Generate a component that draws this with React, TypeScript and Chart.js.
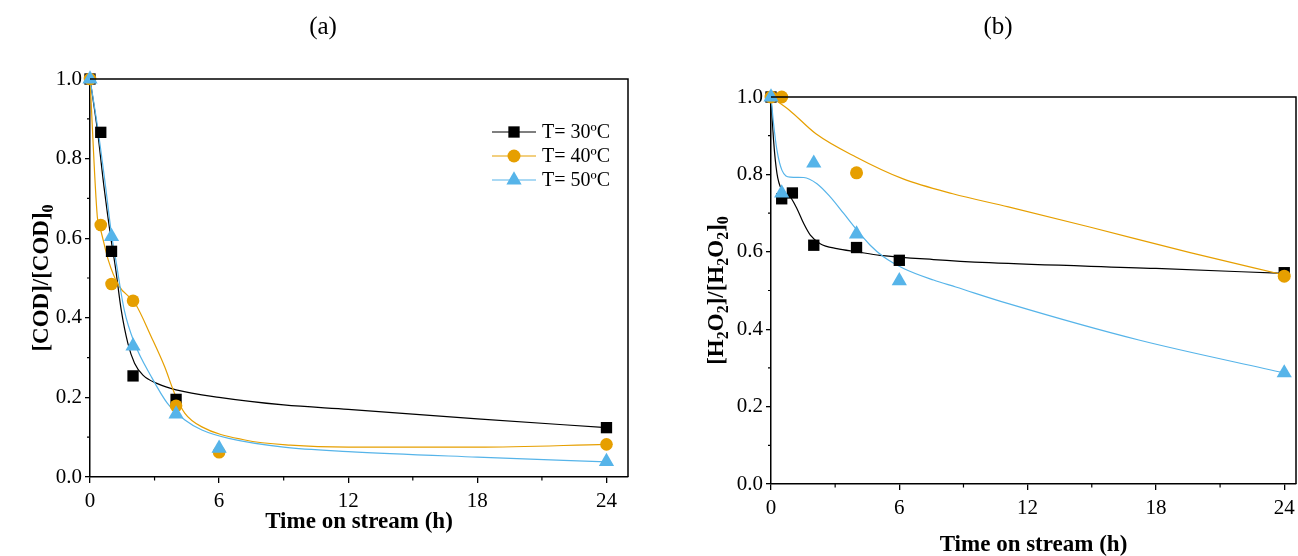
import React, { useEffect, useRef } from 'react';
import { Chart, registerables } from 'chart.js';

Chart.register(...registerables);

const FONT = "'Liberation Serif', 'Times New Roman', Times, serif";
const BLACK = '#000000';
const ORANGE = '#E69F00';
const BLUE = '#56B4E9';

const seriesLabels = ['T= 30ºC', 'T= 40ºC', 'T= 50ºC'];
const xMinorTicks = [3, 9, 15, 21];
const yMinorTicks = [0.1, 0.3, 0.5, 0.7, 0.9];

// ---------- Panel (a): [COD]/[COD]0 ----------
const codT30 = [0, 0.5, 1, 2, 4, 24];
const cod30 = [1.0, 0.866, 0.567, 0.254, 0.195, 0.124];
const codT40 = [0, 0.5, 1, 2, 4, 6, 24];
const cod40 = [1.0, 0.633, 0.485, 0.443, 0.179, 0.062, 0.082];
const codT50 = [0, 1, 2, 4, 6, 24];
const cod50 = [1.0, 0.604, 0.329, 0.158, 0.072, 0.039];

// fitted curves
const codFitT30 = [0, 0.34, 0.65, 0.96, 1.2, 1.45, 1.76, 2.07, 2.46, 3.16, 4, 6, 9, 12, 18, 24];
const codFit30 = [1.0, 0.873, 0.729, 0.604, 0.52, 0.42, 0.336, 0.286, 0.256, 0.234, 0.219, 0.2, 0.181, 0.17, 0.146, 0.124];
const codFitT40 = [0, 0.34, 0.5, 0.85, 1.32, 2.1, 2.85, 3.47, 3.93, 4.41, 5.2, 7.2, 9.3, 12, 18, 24];
const codFit40 = [1.0, 0.654, 0.62, 0.545, 0.482, 0.436, 0.352, 0.277, 0.21, 0.16, 0.126, 0.093, 0.08, 0.075, 0.075, 0.082];
const codFitT50 = [0, 0.35, 0.7, 1.0, 1.2, 1.59, 2.07, 2.85, 3.6, 4.41, 5.2, 6.45, 9, 12, 18, 24];
const codFit50 = [1.0, 0.88, 0.74, 0.61, 0.545, 0.42, 0.336, 0.252, 0.185, 0.143, 0.118, 0.097, 0.075, 0.064, 0.05, 0.038];

// ---------- Panel (b): [H2O2]/[H2O2]0 ----------
const h2o2T30 = [0, 0.5, 1, 2, 4, 6, 24];
const h2o230 = [1.0, 0.737, 0.752, 0.617, 0.611, 0.578, 0.546];
const h2o2T40 = [0, 0.5, 4, 24];
const h2o240 = [1.0, 1.0, 0.804, 0.537];
const h2o2T50 = [0, 0.5, 2, 4, 6, 24];
const h2o250 = [1.0, 0.752, 0.829, 0.646, 0.525, 0.287];

const h2o2FitT30 = [0, 0.12, 0.28, 0.51, 0.9, 1.21, 1.53, 1.84, 2.3, 3.08, 4.02, 5.1, 7.6, 10.2, 18, 24];
const h2o2Fit30 = [1.0, 0.888, 0.802, 0.759, 0.742, 0.712, 0.673, 0.643, 0.621, 0.608, 0.6, 0.591, 0.58, 0.572, 0.557, 0.544];
const h2o2FitT40 = [0, 0.86, 2.1, 3.97, 6.15, 8.5, 11.1, 14.9, 19.6, 24];
const h2o2Fit40 = [1.0, 0.966, 0.905, 0.845, 0.789, 0.75, 0.716, 0.664, 0.598, 0.54];
const h2o2FitT50 = [0, 0.12, 0.28, 0.51, 0.9, 1.53, 2.15, 2.77, 3.4, 4.02, 4.64, 5.26, 6.2, 7.6, 8.64, 11.1, 17.2, 24];
const h2o2Fit50 = [1.0, 0.931, 0.862, 0.811, 0.793, 0.792, 0.776, 0.742, 0.699, 0.656, 0.617, 0.587, 0.557, 0.527, 0.509, 0.466, 0.372, 0.287];

type RichPart = { t: string; sub?: boolean };

const yTitleA: RichPart[] = [{ t: '[COD]/[COD]' }, { t: '0', sub: true }];
const yTitleB: RichPart[] = [
  { t: '[H' }, { t: '2', sub: true }, { t: 'O' }, { t: '2', sub: true },
  { t: ']/[H' }, { t: '2', sub: true }, { t: 'O' }, { t: '2', sub: true },
  { t: ']' }, { t: '0', sub: true },
];

const pts = (xs: number[], ys: number[]) => xs.map((x, i) => ({ x, y: ys[i] }));

const markerDs = (label: string, xs: number[], ys: number[], color: string, style: string, radius: number, order: number) => ({
  type: 'scatter',
  label,
  data: pts(xs, ys),
  showLine: false,
  pointStyle: style,
  pointRadius: radius,
  pointHoverRadius: radius,
  pointBackgroundColor: color,
  pointBorderColor: color,
  pointBorderWidth: 0,
  order,
  clip: false,
});

const curveDs = (xs: number[], ys: number[], color: string, order: number) => ({
  type: 'line',
  label: '',
  data: pts(xs, ys),
  borderColor: color,
  borderWidth: 1.2,
  pointRadius: 0,
  pointHoverRadius: 0,
  cubicInterpolationMode: 'monotone',
  fill: false,
  order,
});

function drawRich(ctx: CanvasRenderingContext2D, parts: RichPart[], size: number) {
  const big = `bold ${size}px ${FONT}`;
  const small = `bold ${Math.round(size * 0.68)}px ${FONT}`;
  let total = 0;
  const widths = parts.map((p) => {
    ctx.font = p.sub ? small : big;
    const w = ctx.measureText(p.t).width;
    total += w;
    return w;
  });
  let x = -total / 2;
  parts.forEach((p, i) => {
    ctx.font = p.sub ? small : big;
    ctx.fillText(p.t, x, p.sub ? size * 0.22 : 0);
    x += widths[i];
  });
}

interface PanelCfg {
  title: string;
  titleX: number;
  titleY: number;
  yTitle: RichPart[];
  yTitleX: number;
  xTitleY: number;
  legend: boolean;
}

const legendItems = [
  { color: BLACK, style: 'rect', radius: 8 },
  { color: ORANGE, style: 'circle', radius: 6.5 },
  { color: BLUE, style: 'triangle', radius: 8.8 },
];

function drawMarker(ctx: CanvasRenderingContext2D, style: string, x: number, y: number, r: number) {
  ctx.beginPath();
  if (style === 'rect') {
    const s = Math.SQRT1_2 * r;
    ctx.rect(x - s, y - s, 2 * s, 2 * s);
  } else if (style === 'circle') {
    ctx.arc(x, y, r, 0, Math.PI * 2);
  } else {
    const w = (r * Math.sqrt(3)) / 2;
    ctx.moveTo(x, y - r);
    ctx.lineTo(x + w, y + r / 2);
    ctx.lineTo(x - w, y + r / 2);
    ctx.closePath();
  }
  ctx.fill();
}

const makePlugin = (cfg: PanelCfg) => ({
  id: 'panelDecor',
  afterDraw(chart: any) {
    const ctx: CanvasRenderingContext2D = chart.ctx;
    const a = chart.chartArea;
    const xs = chart.scales.x;
    const ys = chart.scales.y;
    ctx.save();
    ctx.strokeStyle = BLACK;
    ctx.lineWidth = 1.5;
    ctx.beginPath();
    ctx.moveTo(a.left, a.top);
    ctx.lineTo(a.right, a.top);
    ctx.lineTo(a.right, a.bottom);
    ctx.stroke();
    ctx.lineWidth = 1.2;
    ctx.beginPath();
    xMinorTicks.forEach((v) => {
      const px = xs.getPixelForValue(v);
      ctx.moveTo(px, a.bottom);
      ctx.lineTo(px, a.bottom + 3.5);
    });
    yMinorTicks.forEach((v) => {
      const py = ys.getPixelForValue(v);
      ctx.moveTo(a.left, py);
      ctx.lineTo(a.left - 3, py);
    });
    ctx.stroke();
    ctx.fillStyle = BLACK;
    ctx.font = `25px ${FONT}`;
    ctx.textAlign = 'center';
    ctx.textBaseline = 'middle';
    ctx.fillText(cfg.title, cfg.titleX, cfg.titleY);
    ctx.font = `bold 23px ${FONT}`;
    ctx.fillText('Time on stream (h)', (a.left + a.right) / 2, cfg.xTitleY);
    ctx.save();
    ctx.translate(cfg.yTitleX, (a.top + a.bottom) / 2);
    ctx.rotate(-Math.PI / 2);
    ctx.textAlign = 'left';
    ctx.textBaseline = 'alphabetic';
    ctx.translate(0, 8);
    drawRich(ctx, cfg.yTitle, 23);
    ctx.restore();
    if (cfg.legend) {
      const rows = [132, 156, 180];
      legendItems.forEach((it, i) => {
        const y = rows[i];
        ctx.strokeStyle = it.color;
        ctx.lineWidth = 1.2;
        ctx.beginPath();
        ctx.moveTo(492, y);
        ctx.lineTo(536, y);
        ctx.stroke();
        ctx.fillStyle = it.color;
        drawMarker(ctx, it.style, 514, y, it.radius);
        ctx.fillStyle = BLACK;
        ctx.font = `20px ${FONT}`;
        ctx.textAlign = 'left';
        ctx.textBaseline = 'middle';
        ctx.fillText(seriesLabels[i], 542, y + 1);
      });
    }
    ctx.restore();
  },
});

interface PanelProps {
  datasets: any[];
  xMax: number;
  width: number;
  padding: { left: number; top: number; right: number; bottom: number };
  yWidth: number;
  xHeight: number;
  xPad: number;
  cfg: PanelCfg;
}

function Panel({ datasets, xMax, width, padding, yWidth, xHeight, xPad, cfg }: PanelProps) {
  const ref = useRef<HTMLCanvasElement | null>(null);
  useEffect(() => {
    if (!ref.current) return;
    const tickFont = { family: FONT, size: 21 };
    const chart = new Chart(ref.current, {
      type: 'scatter',
      data: { datasets } as any,
      options: {
        responsive: false,
        animation: false,
        devicePixelRatio: 1,
        layout: { padding },
        plugins: { legend: { display: false }, tooltip: { enabled: false }, title: { display: false } },
        scales: {
          x: {
            type: 'linear',
            min: 0,
            max: xMax,
            ticks: {
              stepSize: 6,
              includeBounds: false,
              color: BLACK,
              font: tickFont,
              padding: xPad,
              maxRotation: 0,
              autoSkip: false,
            },
            grid: { display: true, drawOnChartArea: false, drawTicks: true, tickLength: 6, color: BLACK, lineWidth: 1.3 },
            border: { display: true, color: BLACK, width: 1.5 },
            afterFit: (s: any) => {
              s.height = xHeight;
            },
          },
          y: {
            type: 'linear',
            min: 0,
            max: 1,
            ticks: {
              stepSize: 0.2,
              color: BLACK,
              font: tickFont,
              padding: 3,
              callback: (v: any) => Number(v).toFixed(1),
            },
            grid: { display: true, drawOnChartArea: false, drawTicks: true, tickLength: 5, color: BLACK, lineWidth: 1.3 },
            border: { display: true, color: BLACK, width: 1.5 },
            afterFit: (s: any) => {
              s.width = yWidth;
            },
          },
        },
      } as any,
      plugins: [makePlugin(cfg)],
    });
    return () => chart.destroy();
  }, []);
  return <canvas ref={ref} width={width} height={556} style={{ display: 'block', width, height: 556 }} />;
}

const datasetsA = [
  markerDs(seriesLabels[2], codT50, cod50, BLUE, 'triangle', 8.8, 0),
  markerDs(seriesLabels[1], codT40, cod40, ORANGE, 'circle', 6.3, 1),
  markerDs(seriesLabels[0], codT30, cod30, BLACK, 'rect', 8, 2),
  curveDs(codFitT50, codFit50, BLUE, 3),
  curveDs(codFitT40, codFit40, ORANGE, 4),
  curveDs(codFitT30, codFit30, BLACK, 5),
];

const datasetsB = [
  markerDs(seriesLabels[2], h2o2T50, h2o250, BLUE, 'triangle', 8.8, 0),
  markerDs(seriesLabels[1], h2o2T40, h2o240, ORANGE, 'circle', 6.5, 1),
  markerDs(seriesLabels[0], h2o2T30, h2o230, BLACK, 'rect', 8, 2),
  curveDs(h2o2FitT50, h2o2Fit50, BLUE, 3),
  curveDs(h2o2FitT40, h2o2Fit40, ORANGE, 4),
  curveDs(h2o2FitT30, h2o2Fit30, BLACK, 5),
];

export default function App() {
  return (
    <div style={{ position: 'absolute', left: 0, top: 0, width: 1298, height: 556, background: '#fff', overflow: 'hidden' }}>
      <div style={{ position: 'absolute', left: 0, top: 0 }}>
        <Panel
          datasets={datasetsA}
          xMax={25}
          width={649}
          padding={{ left: 0, top: 79, right: 21, bottom: 0 }}
          yWidth={90}
          xHeight={79}
          xPad={6}
          cfg={{ title: '(a)', titleX: 323, titleY: 27, yTitle: yTitleA, yTitleX: 40, xTitleY: 522, legend: true }}
        />
      </div>
      <div style={{ position: 'absolute', left: 649, top: 0 }}>
        <Panel
          datasets={datasetsB}
          xMax={24.55}
          width={680}
          padding={{ left: 0, top: 97, right: 33, bottom: 0 }}
          yWidth={122}
          xHeight={72}
          xPad={6}
          cfg={{ title: '(b)', titleX: 349, titleY: 27, yTitle: yTitleB, yTitleX: 66, xTitleY: 545, legend: false }}
        />
      </div>
    </div>
  );
}
